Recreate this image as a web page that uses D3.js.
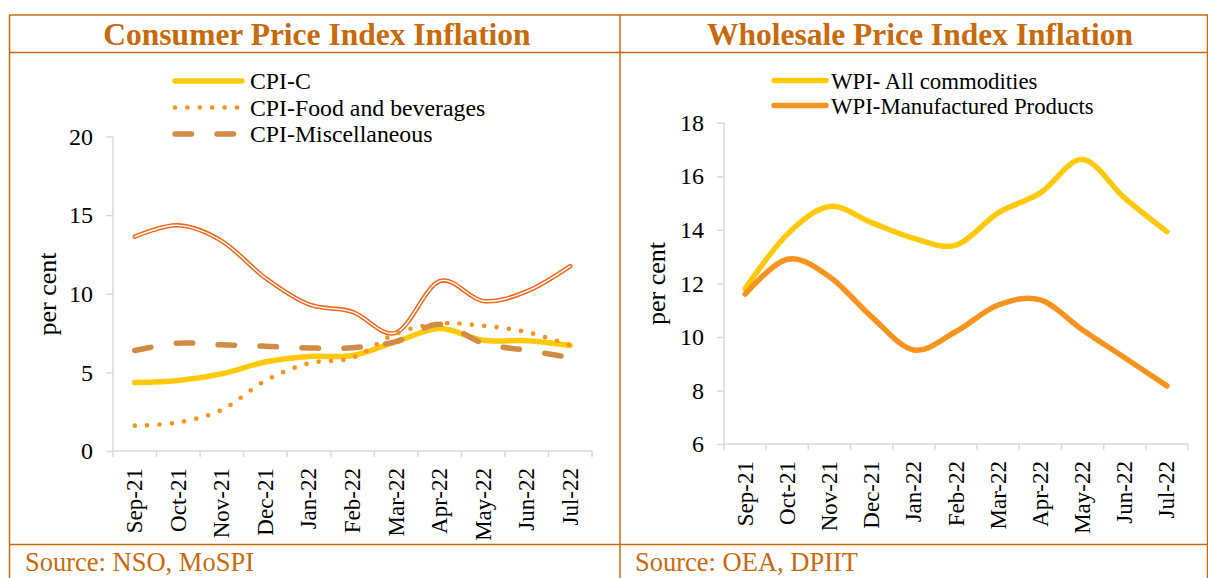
<!DOCTYPE html>
<html>
<head>
<meta charset="utf-8">
<script src="https://cdn.jsdelivr.net/npm/d3@7"></script>
<style>
  html, body { margin: 0; padding: 0; background: #fff; }
  svg { display: block; }
  text { font-family: "Liberation Serif", "Times New Roman", serif; }
</style>
</head>
<body>
<svg id="chart" width="1208" height="578"></svg>
<script>
// Months shared by both panels
const months = ["Sep-21", "Oct-21", "Nov-21", "Dec-21", "Jan-22", "Feb-22",
                "Mar-22", "Apr-22", "May-22", "Jun-22", "Jul-22"];

// Consumer price index, year-on-year inflation (per cent)
const cpiC    = [4.35, 4.48, 4.91, 5.66, 6.01, 6.07, 6.95, 7.79, 7.04, 7.01, 6.71];
const cpiFood = [1.61, 1.82, 2.62, 4.47, 5.58, 5.93, 7.47, 8.10, 7.97, 7.56, 6.73];
const cpiMisc = [6.39, 6.86, 6.75, 6.66, 6.55, 6.57, 6.96, 8.06, 6.85, 6.40, 5.95];
const cpiFuel = [13.63, 14.35, 13.35, 11.00, 9.32, 8.85, 7.52, 10.80, 9.54, 10.15, 11.76];
const cpiTicks = [0, 5, 10, 15, 20];

// Wholesale price index, year-on-year inflation (per cent)
const wpiAll = [11.80, 13.83, 14.87, 14.27, 13.68, 13.43, 14.63, 15.38, 16.63, 15.18, 13.93];
const wpiMfg = [11.60, 12.90, 12.25, 10.75, 9.51, 10.20, 11.19, 11.38, 10.26, 9.22, 8.17];
const wpiTicks = [6, 8, 10, 12, 14, 16, 18];

const svg = d3.select("#chart");
const frameColor = "#C8690C";
const axisColor = "#D9D9D9";
const smooth = d3.curveCatmullRom.alpha(0);

// ---- Table frame ----
const frame = svg.append("g").attr("fill", "none").attr("stroke", frameColor).attr("stroke-width", 1.5);
frame.append("line").attr("x1", 9).attr("x2", 1208).attr("y1", 15).attr("y2", 15);
frame.append("line").attr("x1", 9).attr("x2", 1208).attr("y1", 52.5).attr("y2", 52.5);
frame.append("line").attr("x1", 9).attr("x2", 1208).attr("y1", 544.5).attr("y2", 544.5);
frame.append("line").attr("x1", 9.5).attr("x2", 9.5).attr("y1", 15).attr("y2", 578);
frame.append("line").attr("x1", 620).attr("x2", 620).attr("y1", 15).attr("y2", 578);
frame.append("line").attr("x1", 1207.5).attr("x2", 1207.5).attr("y1", 15).attr("y2", 578);

// ---- Panel builder ----
function panel(cfg) {
  const g = svg.append("g");

  g.append("text")
    .attr("x", cfg.titleX).attr("y", 45)
    .attr("text-anchor", "middle")
    .attr("font-size", 31.5).attr("font-weight", "bold")
    .attr("fill", frameColor)
    .text(cfg.title);

  g.append("text")
    .attr("x", cfg.sourceX).attr("y", 570.5)
    .attr("font-size", 26.5)
    .attr("fill", frameColor)
    .text(cfg.source);

  const x = d3.scaleBand().domain(months).range([cfg.x0, cfg.x1]);
  const y = d3.scaleLinear().domain(cfg.domain).range([cfg.y0, cfg.y1]);
  const cx = d => x(d) + x.bandwidth() / 2;

  // Y axis
  const yAxis = g.append("g")
    .attr("transform", `translate(${cfg.x0},0)`)
    .call(d3.axisLeft(y).tickValues(cfg.ticks).tickSize(7).tickPadding(13).tickFormat(d3.format("d")));
  yAxis.select(".domain").attr("stroke", axisColor).attr("stroke-width", 1.5)
    .attr("d", `M0,${cfg.y0}V${cfg.y1}`);
  yAxis.selectAll(".tick line").attr("stroke", axisColor).attr("stroke-width", 1.5);
  yAxis.selectAll(".tick text").attr("font-size", 24).attr("fill", "#000")
    .attr("font-family", "Liberation Serif");

  // X axis with ticks at category boundaries
  const xAxis = g.append("g").attr("transform", `translate(0,${cfg.y0})`);
  xAxis.append("line").attr("x1", cfg.x0).attr("x2", cfg.x1)
    .attr("stroke", axisColor).attr("stroke-width", 1.5);
  const bounds = months.map(m => x(m)).concat([cfg.x1]);
  xAxis.selectAll("line.tk").data(bounds).join("line").attr("class", "tk")
    .attr("x1", d => d).attr("x2", d => d).attr("y1", 0).attr("y2", 6)
    .attr("stroke", axisColor).attr("stroke-width", 1.5);
  xAxis.selectAll("text").data(months).join("text")
    .attr("transform", d => `translate(${cx(d) + 7.5},17) rotate(-90)`)
    .attr("text-anchor", "end")
    .attr("font-size", 23)
    .text(d => d);

  // Axis title
  g.append("text")
    .attr("transform", `translate(${cfg.yTitleX},${cfg.yTitleY}) rotate(-90)`)
    .attr("text-anchor", "middle")
    .attr("font-size", 26)
    .text("per cent");

  const line = d3.line().x((d, i) => cx(months[i])).y(d => y(d)).curve(smooth);

  cfg.series.forEach(s => {
    if (s.double) {
      g.append("path").datum(s.values).attr("d", line)
        .attr("fill", "none").attr("stroke", s.color).attr("stroke-width", 4.5)
        .attr("stroke-linecap", "round").attr("stroke-linejoin", "round");
      g.append("path").datum(s.values).attr("d", line)
        .attr("fill", "none").attr("stroke", "#fff").attr("stroke-width", 1.4)
        .attr("stroke-linecap", "round").attr("stroke-linejoin", "round");
    } else {
      g.append("path").datum(s.values).attr("d", line)
        .attr("fill", "none").attr("stroke", s.color).attr("stroke-width", s.width)
        .attr("stroke-dasharray", s.dash || null)
        .attr("stroke-linecap", "round").attr("stroke-linejoin", "round");
    }
  });

  // Legend
  const lg = g.append("g");
  cfg.series.filter(s => s.label).forEach((s, i) => {
    const yy = cfg.legendY + i * cfg.legendStep;
    lg.append("line")
      .attr("x1", cfg.legendX).attr("x2", cfg.legendX + cfg.legendLen)
      .attr("y1", yy).attr("y2", yy)
      .attr("stroke", s.color).attr("stroke-width", s.width)
      .attr("stroke-dasharray", s.dash || null)
      .attr("stroke-linecap", "round");
    lg.append("text")
      .attr("x", cfg.legendX + cfg.legendLen + cfg.legendGap).attr("y", yy + 8)
      .attr("font-size", cfg.legendFont)
      .text(s.label);
  });
}

panel({
  title: "Consumer Price Index Inflation", titleX: 317,
  source: "Source: NSO, MoSPI", sourceX: 25,
  x0: 113, x1: 592, y0: 451, y1: 136.5, domain: [0, 20], ticks: cpiTicks,
  yTitleX: 56, yTitleY: 294,
  legendX: 175, legendLen: 67, legendGap: 8, legendY: 81, legendStep: 26.5, legendFont: 23.8,
  series: [
    { values: cpiFuel, color: "#EA6A21", double: true },
    { values: cpiC, color: "#FFC80A", width: 5.5, label: "CPI-C" },
    { values: cpiFood, color: "#F7931E", width: 4.7, dash: "0 12.4", label: "CPI-Food and beverages" },
    { values: cpiMisc, color: "#D08C45", width: 5.5, dash: "16.5 25.5", label: "CPI-Miscellaneous" }
  ]
});

panel({
  title: "Wholesale Price Index Inflation", titleX: 920,
  source: "Source: OEA, DPIIT", sourceX: 635,
  x0: 724, x1: 1188, y0: 444, y1: 122.7, domain: [6, 18], ticks: wpiTicks,
  yTitleX: 665, yTitleY: 283.5,
  legendX: 774, legendLen: 52, legendGap: 5, legendY: 80.5, legendStep: 25, legendFont: 22.8,
  series: [
    { values: wpiAll, color: "#FFC80A", width: 5.5, label: "WPI- All commodities" },
    { values: wpiMfg, color: "#F7931E", width: 5.5, label: "WPI-Manufactured Products" }
  ]
});
</script>
</body>
</html>
